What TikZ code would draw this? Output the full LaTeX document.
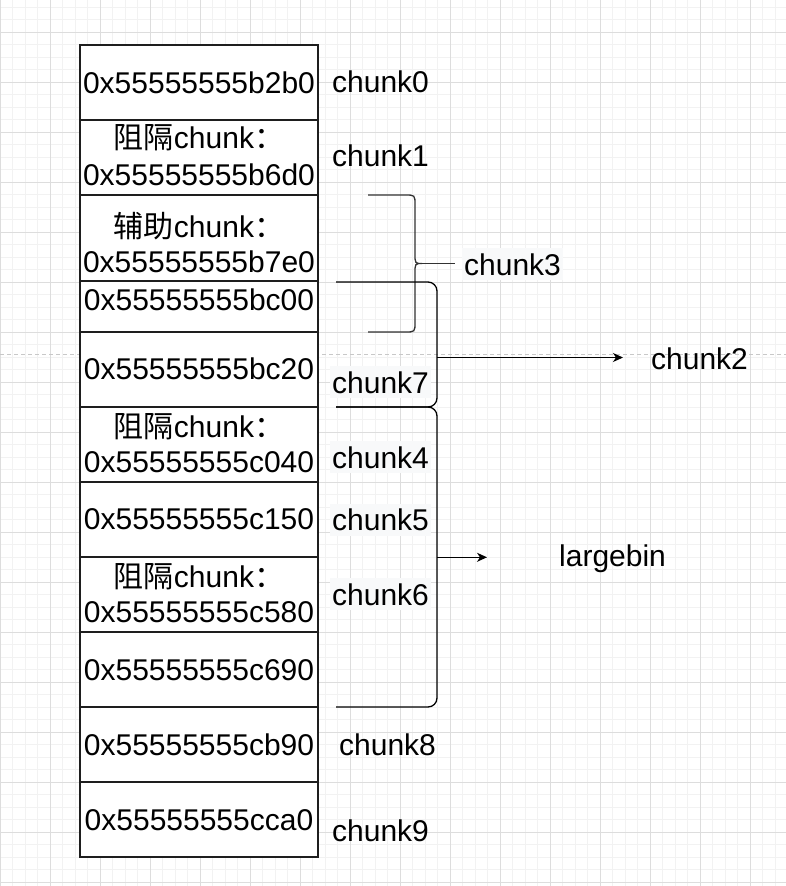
\documentclass[tikz,border=0pt]{standalone}
\usepackage{fontspec}
\setmainfont{Liberation Sans}
\newfontfamily\cjk{Noto Sans CJK SC}
\usetikzlibrary{arrows.meta}
\definecolor{gridminor}{RGB}{242,242,242}
\definecolor{gridmajor}{RGB}{221,221,221}
\definecolor{pagebreak}{RGB}{200,200,200}
\definecolor{labbgc}{RGB}{248,249,250}
\definecolor{boxline}{RGB}{30,30,30}
\definecolor{braceline}{RGB}{50,50,50}
\begin{document}
\begin{tikzpicture}[x=1pt,y=-1pt,
  membox/.style={draw=boxline, line width=1.3pt, fill=white, rectangle, inner sep=0pt, minimum width=238pt},
  addr/.style={anchor=base, inner sep=0pt, font=\fontsize{30}{36}\selectfont},
  lab/.style={anchor=base west, inner sep=0pt, font=\fontsize{30}{36}\selectfont},
  labbg/.style={lab, fill=labbgc, inner xsep=2pt, inner ysep=0pt, text height=27pt, text depth=5pt},
  bracketline/.style={draw=black, line width=1.3pt, rounded corners=9pt},
  curly/.style={draw=braceline, line width=1.3pt},
  arr/.style={draw=black, line width=1.3pt, -{Stealth[length=10pt,width=9pt,inset=3pt]}},
]
\useasboundingbox (0,0) rectangle (786,886);
\fill[white] (0,0) rectangle (786,886);
% grid
\foreach \i in {0,...,63} \draw[gridminor, line width=1pt] (\i*12.5,0) -- (\i*12.5,886);
\foreach \i in {0,...,71} \draw[gridminor, line width=1pt] (0,7+\i*12.5) -- (786,7+\i*12.5);
\foreach \i in {0,...,15} \draw[gridmajor, line width=1pt] (\i*50,0) -- (\i*50,886);
\foreach \i in {0,...,17} \draw[gridmajor, line width=1pt] (0,32+\i*50) -- (786,32+\i*50);
% page break line
\draw[pagebreak, line width=1pt, dash pattern=on 4pt off 3pt] (0,354.5) -- (786,354.5);
% memory boxes
\node[membox, minimum height=75pt] (m0) at (199,82.5) {};
\node[membox, minimum height=75pt] (m1) at (199,157.5) {};
\node[membox, minimum height=86pt] (m2) at (199,238) {};
\node[membox, minimum height=51pt] (m3) at (199,306.5) {};
\node[membox, minimum height=75pt] (m4) at (199,369.5) {};
\node[membox, minimum height=75pt] (m5) at (199,444.5) {};
\node[membox, minimum height=75pt] (m6) at (199,519.5) {};
\node[membox, minimum height=75pt] (m7) at (199,594.5) {};
\node[membox, minimum height=75pt] (m8) at (199,669.5) {};
\node[membox, minimum height=75pt] (m9) at (199,744.5) {};
\node[membox, minimum height=75pt] (m10) at (199,819.5) {};
% addresses
\node[addr] (a0) at (199,93) {0x55555555b2b0};
\node[addr] (a1a) at (199,148.3) {{\cjk 阻隔}chunk{\cjk ：}};
\node[addr] (a1b) at (199,185) {0x55555555b6d0};
\node[addr] (a2a) at (199,237.3) {{\cjk 辅助}chunk{\cjk ：}};
\node[addr] (a2b) at (199,272.7) {0x55555555b7e0};
\node[addr] (a3) at (199,310) {0x55555555bc00};
\node[addr] (a4) at (199,379) {0x55555555bc20};
\node[addr] (a5a) at (199,437.3) {{\cjk 阻隔}chunk{\cjk ：}};
\node[addr] (a5b) at (199,472.5) {0x55555555c040};
\node[addr] (a6) at (199,529.5) {0x55555555c150};
\node[addr] (a7a) at (199,587.3) {{\cjk 阻隔}chunk{\cjk ：}};
\node[addr] (a7b) at (199,622.7) {0x55555555c580};
\node[addr] (a8) at (199,680) {0x55555555c690};
\node[addr] (a9) at (199,755) {0x55555555cb90};
\node[addr] (a10) at (199,830) {0x55555555cca0};
% chunk3 curly brace
\draw[curly] (368,195) -- (405,195) .. controls (415,195) .. (415,205) -- (415,253.5)
  .. controls (415,263.5) .. (422,263.5) .. controls (415,263.5) .. (415,273.5) -- (415,322)
  .. controls (415,332) .. (405,332) -- (368,332);
\coordinate (c3tip) at (422,263.5);
\coordinate (c3end) at (455,263.5);
\draw[curly] (c3tip) -- (c3end);
% chunk7 bracket and largebin bracket
\draw[bracketline] (336,282) -- (437,282) -- (437,407) -- (336,407);
\draw[bracketline] (336,407) -- (437,407) -- (437,707) -- (336,707);
\coordinate (c7mid) at (437,357.5);
\coordinate (c2end) at (623,357.5);
\coordinate (lbmid) at (437,557.3);
\coordinate (lbend) at (487,557.3);
\draw[arr] (c7mid) -- (c2end);
\draw[arr] (lbmid) -- (lbend);
% labels
\node[lab] (l0) at (332,92.7) {chunk0};
\node[lab] (l1) at (332,166.7) {chunk1};
\node[labbg] (l3) at (462,275) {chunk3};
\node[lab] (l2) at (651,369) {chunk2};
\node[labbg] (l7) at (330,393.3) {chunk7};
\node[labbg] (l4) at (330,468.3) {chunk4};
\node[labbg] (l5) at (330,530.7) {chunk5};
\node[lab] (lb) at (559,566.7) {largebin};
\node[labbg] (l6) at (330,605) {chunk6};
\node[lab] (l8) at (339,755.7) {chunk8};
\node[lab] (l9) at (332,841.7) {chunk9};
\end{tikzpicture}
\end{document}
